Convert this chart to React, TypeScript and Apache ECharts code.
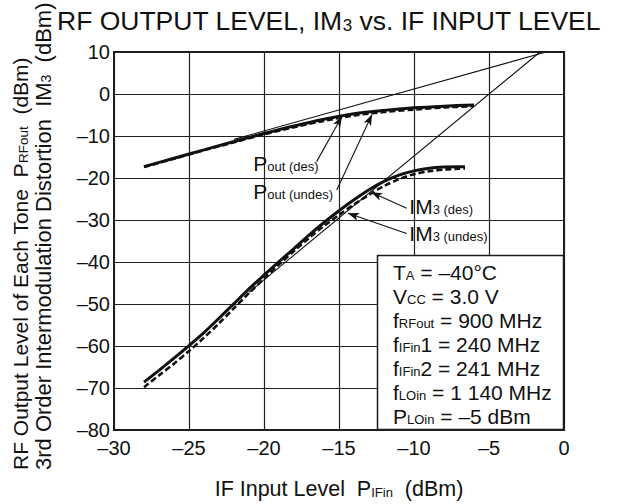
import React, { useEffect, useRef } from "react";
import * as echarts from "echarts";

const FONT = "'Liberation Sans', Arial, Helvetica, sans-serif";
const INK = "#111";

// IF input level (dBm) for the output-level curves
const poutX = [-28, -26, -24, -22, -20, -18, -16, -14, -12, -10, -8, -6];
// RF output level of each tone (dBm)
const poutDes = [-17.3, -15.3, -13.3, -11.3, -9.4, -7.6, -6.0, -4.7, -3.9, -3.3, -2.9, -2.6];
const poutUndes = [-17.4, -15.4, -13.4, -11.5, -9.6, -7.9, -6.4, -5.1, -4.3, -3.7, -3.2, -2.9];

// IF input level (dBm) for the IM3 curves
const im3X = [-28, -27, -26, -25, -24, -23, -22, -21, -20, -19, -18, -17, -16, -15, -14, -13, -12, -11, -10, -9, -8, -7, -6.6];
// 3rd order intermodulation distortion (dBm)
const im3Des = [-68.6, -65.8, -62.9, -59.9, -56.8, -53.4, -49.9, -46.4, -43.1, -39.9, -36.8, -33.6, -30.6, -27.8, -25.2, -22.8, -20.8, -19.3, -18.3, -17.7, -17.4, -17.3, -17.3];
const im3Undes = [-69.8, -67.0, -64.2, -61.2, -58.0, -54.6, -51.0, -47.4, -44.0, -40.6, -37.4, -34.3, -31.4, -28.8, -26.3, -24.0, -21.9, -20.3, -19.1, -18.4, -18.0, -17.8, -17.7];

// Extrapolated slope-1 and slope-3 lines meeting at the intercept point
const poutFitX = [-22, -1.2];
const poutFitY = [-10.8, 10.0];
const im3FitX = [-21, -1.6];
const im3FitY = [-47.2, 10.0];

// Axis ranges
const xMin = -30, xMax = 0, xStep = 5;
const yMin = -80, yMax = 10, yStep = 10;

// Curve callouts: label anchor (left / bottom) and arrow from -> to, in axis units
const calloutBig = ["P", "P", "IM", "IM"];
const calloutSub = ["out (des)", "out (undes)", "3 (des)", "3 (undes)"];
const calloutX = [-20.71, -20.71, -10.31, -10.31];
const calloutY = [-19.4, -26.0, -29.6, -36.0];
const arrowFrom = [[-16.49, -16.1], [-15.15, -22.86], [-10.49, -27.2], [-10.49, -33.2]];
const arrowTo = [[-14.8, -5.3], [-12.8, -4.9], [-12.85, -23.4], [-14.4, -28.4]];

// Test conditions box
const conditions = [
  ["T", "A", " = \u201340\u00b0C"],
  ["V", "CC", " = 3.0 V"],
  ["f", "RFout", " = 900 MHz"],
  ["f", "IFin", "1 = 240 MHz"],
  ["f", "IFin", "2 = 241 MHz"],
  ["f", "LOin", " = 1 140 MHz"],
  ["P", "LOin", " = \u20135 dBm"],
];

const pairs = (xs: number[], ys: number[]) => xs.map((x, i) => [x, ys[i]]);
const dash = (v: number) => (v < 0 ? "\u2013" + Math.abs(v) : String(v));

// Rich-text styles: normal glyphs and small subscripts sitting on the baseline
const richMain = (big: number, sub: number, lh: number) => ({
  a: { fontSize: big, fontFamily: FONT, color: INK, lineHeight: lh },
  s: { fontSize: sub, fontFamily: FONT, color: INK, verticalAlign: "bottom", padding: [0, 0, 2, 0] },
});

const textStyle = (text: string, rich: any, align: string, vAlign: string) => ({
  text,
  rich,
  fill: INK,
  align,
  textAlign: align,
  verticalAlign: vAlign,
  textVerticalAlign: vAlign,
});

export default function App() {
  const ref = useRef<HTMLDivElement>(null);

  useEffect(() => {
    if (!ref.current) return;
    const chart = echarts.init(ref.current, undefined, { renderer: "svg" });

    const lineBase = (name: string, data: number[][], width: number, type: any, smooth: any) => ({
      name,
      type: "line",
      data,
      smooth,
      symbol: "none",
      lineStyle: { color: INK, width, type },
      silent: true,
      z: 3,
    });

    const option: any = {
      animation: false,
      backgroundColor: "#fff",
      grid: {
        left: 114,
        right: 56,
        top: 52,
        bottom: 74,
        show: true,
        borderColor: "#1a1a1a",
        borderWidth: 2,
        backgroundColor: "transparent",
      },
      xAxis: {
        type: "value",
        min: xMin,
        max: xMax,
        interval: xStep,
        axisLine: { show: false },
        axisTick: { show: false },
        splitLine: { show: true, lineStyle: { color: "#222", width: 1.2 } },
        axisLabel: { fontSize: 20, fontFamily: FONT, color: INK, margin: 8, formatter: dash },
      },
      yAxis: {
        type: "value",
        min: yMin,
        max: yMax,
        interval: yStep,
        axisLine: { show: false },
        axisTick: { show: false },
        splitLine: { show: true, lineStyle: { color: "#222", width: 1.2 } },
        axisLabel: { fontSize: 20, fontFamily: FONT, color: INK, margin: 4, formatter: dash },
      },
      series: [
        lineBase("Pout (des)", pairs(poutX, poutDes), 3, "solid", 0.3),
        lineBase("Pout (undes)", pairs(poutX, poutUndes), 2.6, [6, 3], 0.3),
        lineBase("IM3 (des)", pairs(im3X, im3Des), 3, "solid", 0.3),
        lineBase("IM3 (undes)", pairs(im3X, im3Undes), 2.6, [6, 3], 0.3),
        {
          ...lineBase("Pout fit", pairs(poutFitX, poutFitY), 1.1, "solid", false),
          markLine: {
            silent: true,
            animation: false,
            label: { show: false },
            lineStyle: { color: INK, width: 1.1, type: "solid" },
            data: arrowFrom.map((f, i) => [
              { coord: f, symbol: "none" },
              { coord: arrowTo[i], symbol: "arrow", symbolSize: [6, 11] },
            ]),
          },
        },
        lineBase("IM3 fit", pairs(im3FitX, im3FitY), 1.1, "solid", false),
      ],
    };

    chart.setOption(option);

    const toPx = (x: number, y: number) => chart.convertToPixel({ gridIndex: 0 }, [x, y]) as number[];

    const callouts = calloutX.map((x, i) => {
      const [px, py] = toPx(x, calloutY[i]);
      return {
        type: "text",
        z: 10,
        x: px,
        y: py,
        style: textStyle(`{a|${calloutBig[i]}}{s|${calloutSub[i]}}`, richMain(21, 13, 24), "left", "bottom"),
      };
    });

    chart.setOption({
      graphic: [
        {
          type: "text",
          x: 57,
          y: 21,
          style: textStyle("{a|RF OUTPUT LEVEL, IM}{s|3}{a| vs. IF INPUT LEVEL}", richMain(26.5, 17, 30), "left", "middle"),
        },
        {
          type: "text",
          x: 20,
          y: 470,
          rotation: Math.PI / 2,
          style: textStyle("{a|RF Output Level of Each Tone  P}{s|RFout}{a|  (dBm)}", richMain(21, 13.5, 24), "left", "middle"),
        },
        {
          type: "text",
          x: 43,
          y: 470,
          rotation: Math.PI / 2,
          style: textStyle("{a|3rd Order Intermodulation Distortion  IM}{s|3}{a|  (dBm)}", richMain(22, 14, 24), "left", "middle"),
        },
        {
          type: "text",
          x: 339,
          y: 489,
          style: textStyle("{a|IF Input Level  P}{s|IFin}{a|  (dBm)}", richMain(21.5, 13, 24), "center", "middle"),
        },
        ...callouts,
        {
          type: "rect",
          z: 20,
          shape: { x: 377.5, y: 255.5, width: 186, height: 174 },
          style: { fill: "#fff", stroke: "#1a1a1a", lineWidth: 1.5 },
        },
        {
          type: "text",
          z: 21,
          x: 393,
          y: 260,
          style: textStyle(
            conditions.map((c) => `{a|${c[0]}}{s|${c[1]}}{a|${c[2]}}`).join("\n"),
            richMain(21, 13, 24),
            "left",
            "top"
          ),
        },
      ],
    });

    return () => chart.dispose();
  }, []);

  return (
    <div
      ref={ref}
      style={{ position: "fixed", left: 0, top: 0, width: 620, height: 504, background: "#fff" }}
    />
  );
}
